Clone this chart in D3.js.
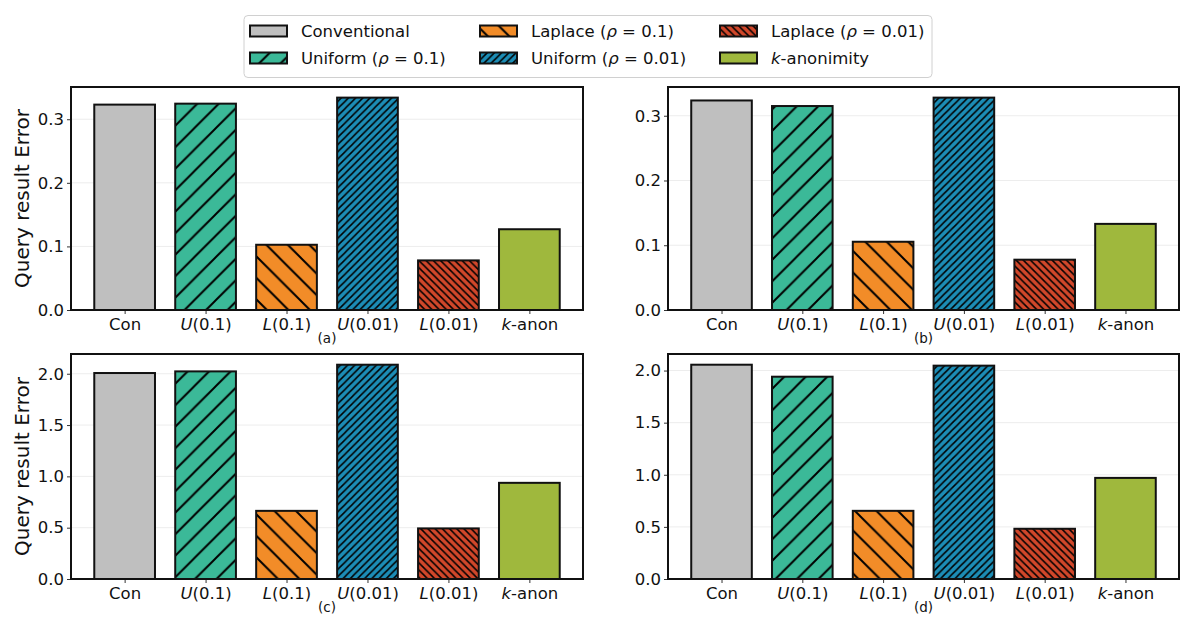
<!DOCTYPE html>
<html>
<head>
<meta charset="utf-8">
<script src="https://cdn.jsdelivr.net/npm/d3@7"></script>
<style>
  html, body { margin: 0; padding: 0; background: #fff; }
  svg { display: block; font-family: "DejaVu Sans", sans-serif; }
</style>
</head>
<body>
<svg id="chart" width="1199" height="628"></svg>
<script>
// ---------------- data ----------------
const categories = ["Con", "U(0.1)", "L(0.1)", "U(0.01)", "L(0.01)", "k-anon"];
const valuesA = [0.323, 0.3245, 0.1026, 0.334, 0.078, 0.127];
const valuesB = [0.3236, 0.315, 0.1054, 0.328, 0.0777, 0.133];
const valuesC = [2.007, 2.023, 0.664, 2.088, 0.493, 0.937];
const valuesD = [2.056, 1.941, 0.654, 2.047, 0.482, 0.970];
const ticksSmall = [0.0, 0.1, 0.2, 0.3];
const ticksLarge = [0.0, 0.5, 1.0, 1.5, 2.0];
const panelLabels = ["(a)", "(b)", "(c)", "(d)"];
const legendNames = ["Conventional", "Uniform (ρ = 0.1)", "Laplace (ρ = 0.1)", "Uniform (ρ = 0.01)", "Laplace (ρ = 0.01)", "k-anonimity"];
const yLabel = "Query result Error";

// ---------------- styles ----------------
const colors = ["#bfbfbf", "#3bb998", "#f28c28", "#1c8db6", "#d1472a", "#9fb83d"];
const hatches = [null, "fwd", "back", "fwd3", "back3", null];

const svg = d3.select("#chart");
const defs = svg.append("defs");

function makePattern(id, color, kind) {
  const dense = kind.endsWith("3");
  const s = dense ? 7.2 : 21.5;
  const lw = dense ? 1.5 : 2;
  const p = defs.append("pattern")
    .attr("id", id).attr("patternUnits", "userSpaceOnUse")
    .attr("width", s).attr("height", s);
  p.append("rect").attr("width", s).attr("height", s).attr("fill", color);
  let d;
  if (kind.startsWith("fwd")) {
    d = `M0,${s} L${s},0 M${-s/2},${s/2} L${s/2},${-s/2} M${s/2},${s*1.5} L${s*1.5},${s/2}`;
  } else {
    d = `M0,0 L${s},${s} M${-s/2},${s/2} L${s/2},${s*1.5} M${s/2},${-s/2} L${s*1.5},${s/2}`;
  }
  p.append("path").attr("d", d).attr("stroke", "#000").attr("stroke-width", lw).attr("fill", "none");
}
const fills = colors.map((c, i) => {
  if (!hatches[i]) return c;
  makePattern("h" + i, c, hatches[i]);
  return `url(#h${i})`;
});

// ---------------- panels ----------------
const panels = [
  { vals: valuesA, ticks: ticksSmall, x0: 71, x1: 583, y0: 87, y1: 310, ylabel: true },
  { vals: valuesB, ticks: ticksSmall, x0: 668, x1: 1179, y0: 87, y1: 310, ylabel: false },
  { vals: valuesC, ticks: ticksLarge, x0: 71, x1: 583, y0: 354, y1: 579, ylabel: true },
  { vals: valuesD, ticks: ticksLarge, x0: 668, x1: 1179, y0: 354, y1: 579, ylabel: false }
];

const barW = 0.75;
const xPad = (categories.length - 1 + barW) * 0.05;
const fs = 16.5;
panels.forEach((P, pi) => {
  const x = d3.scaleLinear()
    .domain([-barW / 2 - xPad, categories.length - 1 + barW / 2 + xPad])
    .range([P.x0, P.x1]);
  const y = d3.scaleLinear()
    .domain([0, d3.max(P.vals) * 1.05])
    .range([P.y1, P.y0]);
  const g = svg.append("g");

  // grid
  g.selectAll("line.grid").data(P.ticks).join("line")
    .attr("x1", P.x0).attr("x2", P.x1)
    .attr("y1", d => y(d)).attr("y2", d => y(d))
    .attr("stroke", "#ededed").attr("stroke-width", 1);

  // bars
  g.selectAll("rect.bar").data(P.vals).join("rect")
    .attr("x", (d, i) => x(i - barW / 2))
    .attr("width", (d, i) => x(i + barW / 2) - x(i - barW / 2))
    .attr("y", d => y(d))
    .attr("height", d => y(0) - y(d))
    .attr("fill", (d, i) => fills[i])
    .attr("stroke", "#111").attr("stroke-width", 2);

  // y axis
  const yAxis = d3.axisLeft(y).tickValues(P.ticks).tickFormat(d3.format(".1f"))
    .tickSize(4).tickPadding(3);
  const ya = svg.append("g").attr("transform", `translate(${P.x0},0)`).call(yAxis);
  ya.select(".domain").remove();
  ya.selectAll(".tick line").attr("stroke", "#333").attr("stroke-width", 1);
  ya.selectAll(".tick text").attr("font-size", fs).attr("fill", "#111")
    .attr("font-family", "DejaVu Sans");

  // x axis
  const xAxis = d3.axisBottom(x).tickValues(d3.range(categories.length))
    .tickSize(4).tickPadding(4).tickFormat("");
  const xa = svg.append("g").attr("transform", `translate(0,${P.y1})`).call(xAxis);
  xa.select(".domain").remove();
  xa.selectAll(".tick line").attr("stroke", "#333").attr("stroke-width", 1);
  xa.selectAll(".tick").each(function (d) {
    const label = categories[d];
    const t = d3.select(this).append("text")
      .attr("y", 20).attr("font-size", fs).attr("fill", "#111")
      .attr("text-anchor", "middle").attr("font-family", "DejaVu Sans");
    const first = label[0];
    if (first === "U" || first === "L" || first === "k") {
      t.append("tspan").attr("font-style", "italic").text(first);
      t.append("tspan").text(label.slice(1));
    } else {
      t.text(label);
    }
  });

  // frame
  svg.append("rect")
    .attr("x", P.x0).attr("y", P.y0)
    .attr("width", P.x1 - P.x0).attr("height", P.y1 - P.y0)
    .attr("fill", "none").attr("stroke", "#111").attr("stroke-width", 2);

  // panel caption
  svg.append("text")
    .attr("x", (P.x0 + P.x1) / 2).attr("y", P.y1 + 33)
    .attr("text-anchor", "middle").attr("font-size", 13.5).attr("fill", "#111")
    .text(panelLabels[pi]);

  if (P.ylabel) {
    svg.append("text")
      .attr("transform", `translate(29,${(P.y0 + P.y1) / 2}) rotate(-90)`)
      .attr("text-anchor", "middle").attr("font-size", 20).attr("fill", "#111")
      .text(yLabel);
  }
});

// ---------------- legend ----------------
const lg = svg.append("g");
lg.append("rect").attr("x", 244).attr("y", 15.5).attr("width", 688).attr("height", 62)
  .attr("rx", 4).attr("fill", "#fff").attr("stroke", "#d0d0d0").attr("stroke-width", 1);
const colX = [250, 480, 720];
const rowY = [31, 58];
legendNames.forEach((name, i) => {
  const col = Math.floor(i / 2), row = i % 2;
  const px = colX[col], py = rowY[row];
  lg.append("rect").attr("x", px).attr("y", py - 5.5).attr("width", 37).attr("height", 11)
    .attr("fill", fills[i]).attr("stroke", "#111").attr("stroke-width", 2);
  const t = lg.append("text").attr("x", px + 51).attr("y", py + 6)
    .attr("font-size", fs).attr("fill", "#111");
  if (name.startsWith("k-")) {
    t.append("tspan").attr("font-style", "italic").text("k");
    t.append("tspan").text(name.slice(1));
  } else {
    const m = name.indexOf("ρ");
    if (m >= 0) {
      t.append("tspan").text(name.slice(0, m));
      t.append("tspan").attr("font-style", "italic").text("ρ");
      t.append("tspan").text(name.slice(m + 1));
    } else {
      t.text(name);
    }
  }
});
</script>
</body>
</html>
